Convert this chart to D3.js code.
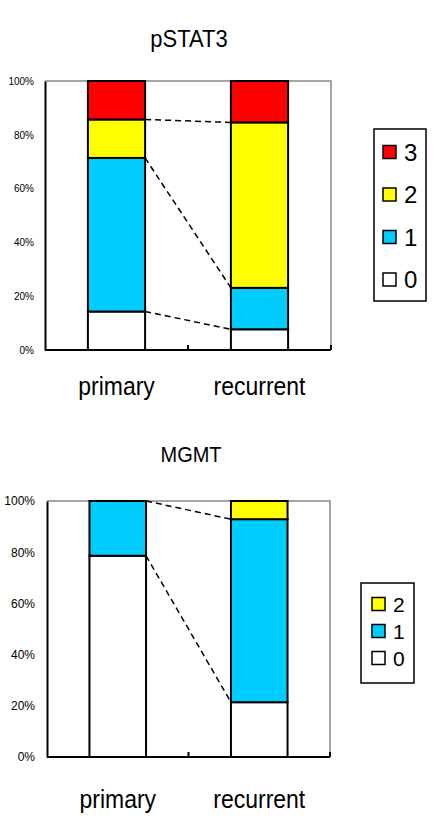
<!DOCTYPE html>
<html>
<head>
<meta charset="utf-8">
<script src="https://cdnjs.cloudflare.com/ajax/libs/d3/7.8.5/d3.min.js"></script>
<style>
  body { margin: 0; background: #fff; }
  text { font-family: "Liberation Sans", Arial, sans-serif; fill: #000; }
</style>
</head>
<body>
<div id="chart"></div>
<script>
// categories and stack levels
const categories = ["primary", "recurrent"];
const pstatLevels = ["0", "1", "2", "3"];
const mgmtLevels = ["0", "1", "2"];

// percentages per level (bottom to top)
const pstatPrimary = [14.3, 57.1, 14.3, 14.3];
const pstatRecurrent = [7.7, 15.4, 61.5, 15.4];
const mgmtPrimary = [78.6, 21.4, 0];
const mgmtRecurrent = [21.4, 71.5, 7.1];

const yTicks = [0, 20, 40, 60, 80, 100];
const levelColors = { "0": "#ffffff", "1": "#00ccff", "2": "#ffff00", "3": "#ff0000" };

const svg = d3.select("#chart").append("svg")
    .attr("width", 433)
    .attr("height", 818);

function stretchedText(g, x, y, str, size, anchor, sy) {
    return g.append("text")
        .attr("transform", `translate(${x},${y}) scale(1,${sy})`)
        .attr("text-anchor", anchor)
        .style("font-size", size + "px")
        .text(str);
}

function drawPanel(p) {
    const g = svg.append("g");

    const x = d3.scaleBand().domain(categories).range([p.left, p.right]);
    const y = d3.scaleLinear().domain([0, 100]).range([p.bottom, p.top]);
    const barW = x.bandwidth() * 0.4;

    // rows -> stacked
    const rows = categories.map((c, i) => {
        const r = { cat: c };
        p.levels.forEach((l, j) => r[l] = p.values[i][j]);
        return r;
    });
    const stacked = d3.stack().keys(p.levels)(rows);

    // gray top/right frame
    g.append("path")
        .attr("d", `M${p.left},${p.top}H${p.right}V${p.bottom}`)
        .attr("fill", "none")
        .attr("stroke", "#888")
        .attr("stroke-width", 1.5);

    // bars
    stacked.forEach(s => {
        g.selectAll(null).data(s.filter(d => d[1] - d[0] > 0))
            .join("rect")
            .attr("x", d => x(d.data.cat) + (x.bandwidth() - barW) / 2)
            .attr("y", d => y(d[1]))
            .attr("width", barW)
            .attr("height", d => y(d[0]) - y(d[1]))
            .attr("fill", levelColors[s.key])
            .attr("stroke", "#000")
            .attr("stroke-width", 2);
    });

    // series lines between bar tops
    stacked.forEach(s => {
        const a = s[0][1], b = s[1][1];
        if (a >= 100 && b >= 100) return;
        g.append("line")
            .attr("x1", x(categories[0]) + (x.bandwidth() + barW) / 2)
            .attr("y1", y(a))
            .attr("x2", x(categories[1]) + (x.bandwidth() - barW) / 2)
            .attr("y2", y(b))
            .attr("stroke", "#000")
            .attr("stroke-width", 1.5)
            .attr("stroke-dasharray", "6,4");
    });

    // y axis
    const yAxis = g.append("g")
        .attr("transform", `translate(${p.left},0)`)
        .call(d3.axisLeft(y).tickValues(yTicks).tickSize(0).tickPadding(p.tickPad)
            .tickFormat(d => d + "%"));
    yAxis.select(".domain").attr("stroke", "#000").attr("stroke-width", 2);
    yAxis.selectAll("text")
        .style("font-size", p.tickFont + "px")
        .style("font-family", "\"Liberation Sans\", Arial, sans-serif")
        .attr("fill", "#333");

    // x axis with inward ticks at band edges
    g.append("line")
        .attr("x1", p.left).attr("x2", p.right)
        .attr("y1", p.bottom).attr("y2", p.bottom)
        .attr("stroke", "#000").attr("stroke-width", 2);
    [x(categories[1]), p.right].forEach(tx => {
        g.append("line")
            .attr("x1", tx).attr("x2", tx)
            .attr("y1", p.bottom).attr("y2", p.bottom - 5)
            .attr("stroke", "#000").attr("stroke-width", 2);
    });

    // category labels
    categories.forEach(c => {
        stretchedText(g, x(c) + x.bandwidth() / 2, p.catY, c, p.catFont, "middle", p.sy);
    });

    // title
    stretchedText(g, p.titleX, p.titleY, p.title, p.titleFont, "middle", p.sy);

    // legend (top level first)
    const lg = g.append("g");
    lg.append("rect")
        .attr("x", p.legend.x).attr("y", p.legend.y)
        .attr("width", p.legend.w).attr("height", p.legend.h)
        .attr("fill", "#fff").attr("stroke", "#000").attr("stroke-width", 1.5);
    p.levels.slice().reverse().forEach((l, i) => {
        const cy = p.legend.firstY + i * p.legend.step;
        lg.append("rect")
            .attr("x", p.legend.x + p.legend.markX)
            .attr("y", cy - 6.5)
            .attr("width", 13).attr("height", 13)
            .attr("fill", levelColors[l])
            .attr("stroke", "#000").attr("stroke-width", 1.5);
        stretchedText(lg, p.legend.x + p.legend.markX + 21, cy + p.legend.font * 0.36, l,
            p.legend.font, "start", 1);
    });
}

drawPanel({
    title: "pSTAT3", titleX: 189, titleY: 47, titleFont: 22,
    levels: pstatLevels, values: [pstatPrimary, pstatRecurrent],
    left: 45, right: 331, top: 81, bottom: 350,
    tickFont: 10, tickPad: 11,
    catY: 395, catFont: 23, sy: 1.12,
    legend: { x: 374, y: 129, w: 52, h: 172, markX: 9, firstY: 152, step: 42.5, font: 24 }
});

drawPanel({
    title: "MGMT", titleX: 191, titleY: 462, titleFont: 20,
    levels: mgmtLevels, values: [mgmtPrimary, mgmtRecurrent],
    left: 47, right: 330, top: 501, bottom: 757,
    tickFont: 12, tickPad: 12,
    catY: 808, catFont: 23, sy: 1.12,
    legend: { x: 361, y: 583, w: 53, h: 100, markX: 11, firstY: 604, step: 27, font: 21 }
});
</script>
</body>
</html>
